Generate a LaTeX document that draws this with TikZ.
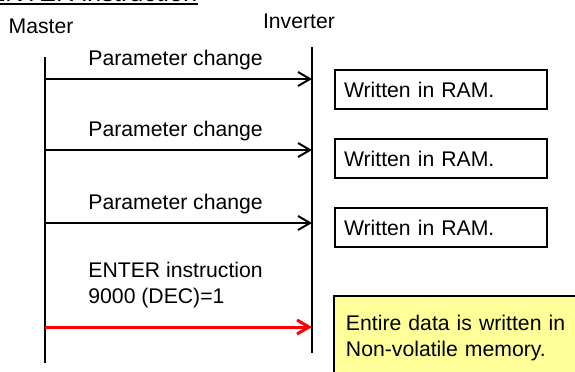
\documentclass[tikz,border=0pt]{standalone}
\usepackage{fontspec}
\setmainfont{Liberation Sans}
\usepackage{tikz}
\usetikzlibrary{arrows.meta, positioning}
\definecolor{memyellow}{HTML}{FFFF99}
\definecolor{enterred}{HTML}{FF0000}

\begin{document}
\begin{tikzpicture}[x=0.5pt, y=-0.5pt,
    every node/.style={font=\fontsize{10.6}{12.75}\selectfont},
    lifeline/.style={line width=1pt},
    msg/.style={line width=1pt, -{Straight Barb[length=6pt, width=7pt]}},
    ramnote/.style={draw, line width=1pt, anchor=north west, text width=97pt,
                    inner xsep=4.5pt, inner ysep=0pt, minimum height=19.5pt, align=left}]
  % page frame, 575 x 371 px
  \useasboundingbox (0,0) rectangle (575,371);
  \def\mx{45}
  \def\ix{312}

  % heading (cut by the top edge)
  \node[anchor=base west, inner sep=0pt, font=\fontsize{12.7}{15}\selectfont]
    (title) at (-12,1) {ENTER instruction};
  \draw[line width=1pt] ([yshift=-1.5pt]title.base west) -- ([yshift=-1.5pt]title.base east);

  % lifelines
  \node[anchor=base] (master) at (41,33) {Master};
  \node[anchor=base] (inverter) at (299,28) {Inverter};
  \coordinate (mtop) at (\mx,57);
  \coordinate (mbot) at (\mx,363);
  \coordinate (itop) at (\ix,47);
  \coordinate (ibot) at (\ix,353);
  \draw[lifeline] (mtop) -- (mbot);
  \draw[lifeline] (itop) -- (ibot);

  % parameter writes
  \foreach \i/\yc/\by in {1/79/69, 2/150/138, 3/223/207}{
    \coordinate (m\i) at (\mx,\yc);
    \coordinate (i\i) at (\ix,\yc);
    \draw[msg] (m\i) -- (i\i);
    \node[anchor=base west, inner sep=0pt] (par\i) at (88,\yc-14) {Parameter change};
    \node[ramnote] (ram\i) at (334,\by) {Written in RAM.};
  }

  % ENTER instruction
  \coordinate (m4) at (\mx,327);
  \coordinate (i4) at (\ix,327);
  \draw[msg, enterred, line width=1.5pt] (m4) -- (i4);
  \node[anchor=base west, inner sep=0pt, align=left] (enter) at (88,303)
    {ENTER instruction\\9000 (DEC)=1};
  \node[draw, line width=1pt, fill=memyellow, anchor=north west, text width=125pt,
        inner xsep=6pt, inner ysep=9.8pt, align=left] (nvmem) at (333,295)
    {Entire data is written in\\Non-volatile memory.};
\end{tikzpicture}
\end{document}
